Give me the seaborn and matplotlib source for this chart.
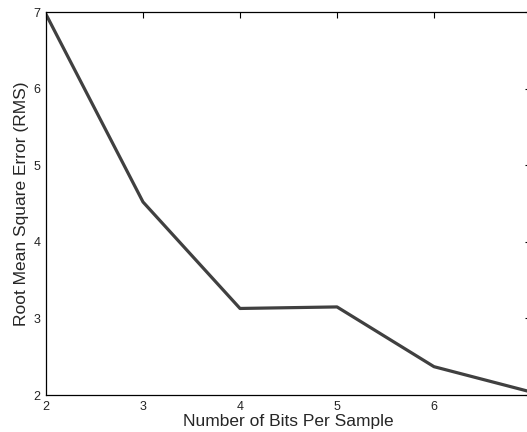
import matplotlib
matplotlib.use("Agg")
import matplotlib.pyplot as plt
import seaborn as sns
import pandas as pd

bits = [2, 3, 4, 5, 6, 7]
rms = [6.97, 4.52, 3.13, 3.15, 2.37, 2.04]
xticks = [2, 3, 4, 5, 6, 7]
xticklabels = ["2", "3", "4", "5", "6", ""]
yticks = [2, 3, 4, 5, 6, 7]

sns.set_style("white")
plt.rcParams['font.family'] = ['Liberation Sans', 'DejaVu Sans']

df = pd.DataFrame({"bits": bits, "rms": rms})
fig = plt.figure(figsize=(5.27, 4.32), dpi=100)
ax = fig.add_axes([0.0873, 0.0856, 0.9203, 0.8866])
sns.lineplot(data=df, x="bits", y="rms", ax=ax, color="#404040", linewidth=2.3)
ax.set_xlim(2, 7)
ax.set_ylim(2, 7)
ax.set_xticks(xticks)
ax.set_xticklabels(xticklabels)
ax.set_yticks(yticks)
ax.tick_params(direction="in", length=4, width=0.8, labelsize=9, top=True, right=True, pad=4, color="black", labelcolor="#222222")
for s in ax.spines.values():
    s.set_color("black")
    s.set_linewidth(0.9)
ax.set_xlabel("Number of Bits Per Sample", fontsize=12.5, labelpad=1)
ax.set_ylabel("Root Mean Square Error (RMS)", fontsize=12.5, labelpad=3)
fig.savefig("out.png", dpi=100)
